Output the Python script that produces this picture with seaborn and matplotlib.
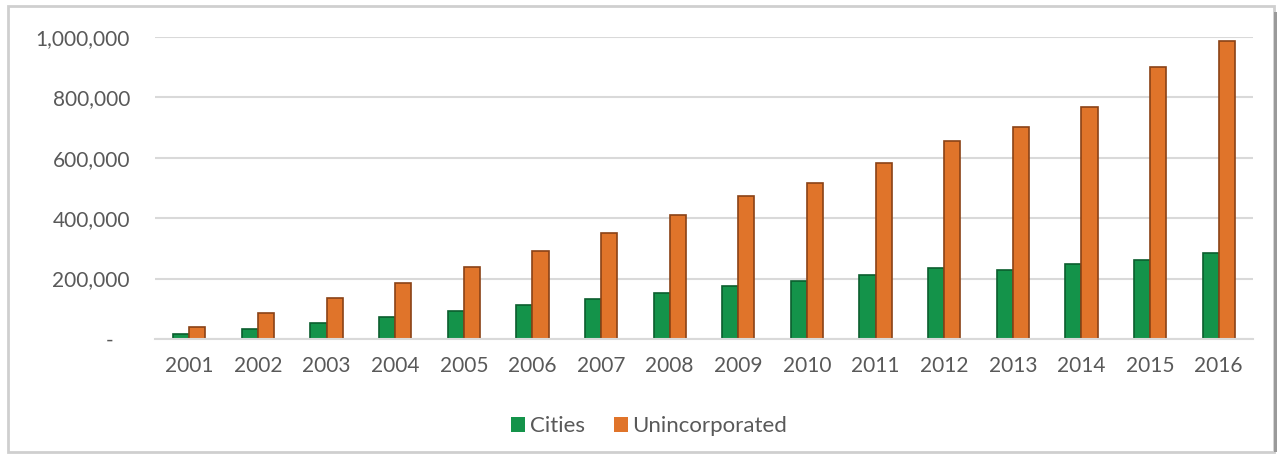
import matplotlib
matplotlib.use("Agg")
import matplotlib.pyplot as plt
import seaborn as sns
import pandas as pd
from matplotlib.patches import Rectangle
from matplotlib.ticker import FuncFormatter

years = ["2001", "2002", "2003", "2004", "2005", "2006", "2007", "2008",
         "2009", "2010", "2011", "2012", "2013", "2014", "2015", "2016"]
cities = [15000, 34000, 54000, 74000, 93000, 113000, 132000, 153000,
          175000, 192000, 212000, 234000, 228000, 248000, 263000, 284000]
unincorporated = [39000, 85000, 135000, 184000, 237000, 292000, 350000, 411000,
                  472000, 517000, 584000, 655000, 703000, 767000, 900000, 988000]
series_names = ["Cities", "Unincorporated"]
colors = ["#14934a", "#e0742a"]
edge_colors = ["#0b5e2e", "#8a4216"]

df = pd.DataFrame({
    "Year": years * 2,
    "Value": cities + unincorporated,
    "Series": [series_names[0]] * len(years) + [series_names[1]] * len(years),
})

sns.set_style("white")
plt.rcParams['font.family'] = ['Lato', 'DejaVu Sans']

fig = plt.figure(figsize=(12.83, 4.55), dpi=100)
ax = fig.add_axes([0.1208, 0.255, 0.9766 - 0.1208, 0.9187 - 0.255])

sns.barplot(data=df, x="Year", y="Value", hue="Series", palette=colors,
            width=0.47, ax=ax, saturation=1, linewidth=0)

for container, ec in zip(ax.containers, edge_colors):
    for bar in container:
        bar.set_edgecolor(ec)
        bar.set_linewidth(1.2)

ax.set_ylim(0, 1000000)
ax.set_yticks([0, 200000, 400000, 600000, 800000, 1000000])
ax.yaxis.set_major_formatter(FuncFormatter(lambda v, p: "-   " if v == 0 else f"{v:,.0f}"))
ax.grid(axis="y", color="#d9d9d9", linewidth=1.5)
ax.set_axisbelow(True)
for s in ["top", "right", "left"]:
    ax.spines[s].set_visible(False)
ax.spines["bottom"].set_color("#d9d9d9")
ax.spines["bottom"].set_linewidth(1.5)
ax.tick_params(axis="both", length=0, labelsize=15, colors="#595959")
ax.tick_params(axis="x", pad=12)
ax.tick_params(axis="y", pad=18)
ax.set_xlabel("")
ax.set_ylabel("")

leg = ax.legend(loc="upper center", bbox_to_anchor=(0.45, -0.19), ncol=2,
                frameon=False, fontsize=16, handlelength=0.65, handleheight=0.65,
                handletextpad=0.2, columnspacing=1.3)
for t in leg.get_texts():
    t.set_color("#595959")

# outer frame
fig.patches.append(Rectangle((8 / 1283, 3 / 455), 1266 / 1283, 446 / 455,
                             transform=fig.transFigure, fill=False,
                             edgecolor="#cfcfcf", linewidth=2, zorder=0))
fig.patches.append(Rectangle((1274 / 1283, 3 / 455), 3 / 1283, 440 / 455,
                             transform=fig.transFigure, fill=True,
                             facecolor="#9a9a9a", edgecolor="none", zorder=0))

fig.savefig("out.png", dpi=100)
